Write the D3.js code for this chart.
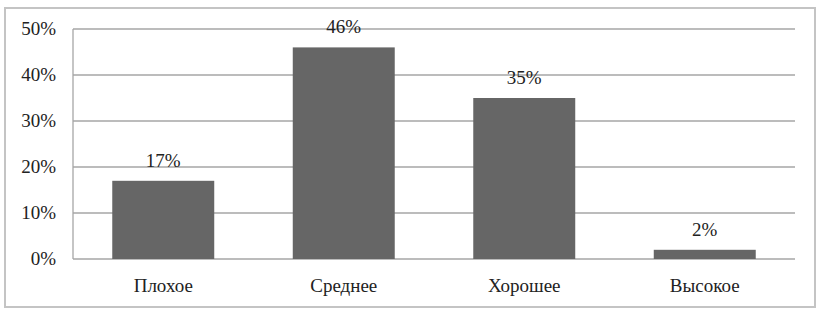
<!DOCTYPE html>
<html lang="ru">
<head>
<meta charset="UTF-8">
<script src="https://d3js.org/d3.v7.min.js"></script>
<style>
  body { margin: 0; background: #fff; }
</style>
</head>
<body>
<script>
var categories = ["Плохое", "Среднее", "Хорошее", "Высокое"]
var values = [17, 46, 35, 2]
var yTicks = [0, 10, 20, 30, 40, 50]

var width = 827, height = 316
var plotLeft = 73, plotRight = 795, plotTop = 29, plotBottom = 259
var fontFam = "'Liberation Serif', 'Times New Roman', Times, serif"

const svg = d3.select("body").append("svg")
    .attr("width", width)
    .attr("height", height)
    .style("font-family", fontFam)

// outer frame
svg.append("rect")
    .attr("x", 5).attr("y", 8)
    .attr("width", 810).attr("height", 299)
    .attr("fill", "none")
    .attr("stroke", "#c4c4c4")
    .attr("stroke-width", 2)

var x = d3.scaleBand().domain(categories).range([plotLeft, plotRight]).paddingInner(0.435).paddingOuter(0.2175)
var y = d3.scaleLinear().domain([0, 50]).range([plotBottom, plotTop])

// grid lines
svg.selectAll(".grid")
    .data(yTicks)
    .enter().append("line")
    .attr("x1", plotLeft).attr("x2", plotRight)
    .attr("y1", d => y(d)).attr("y2", d => y(d))
    .attr("stroke", "#a6a6a6")
    .attr("stroke-width", 1.3)

// left axis line
svg.append("line")
    .attr("x1", plotLeft).attr("x2", plotLeft)
    .attr("y1", plotTop).attr("y2", plotBottom)
    .attr("stroke", "#a6a6a6")
    .attr("stroke-width", 1.3)

svg.selectAll(".ytick")
    .data(yTicks)
    .enter().append("text")
    .attr("x", 56)
    .attr("y", d => y(d) + 6)
    .attr("text-anchor", "end")
    .attr("font-size", 19)
    .attr("fill", "#222")
    .text(d => d + "%")

svg.selectAll(".bar")
    .data(values)
    .enter().append("rect")
    .attr("x", (d, i) => x(categories[i]))
    .attr("y", d => y(d))
    .attr("width", x.bandwidth())
    .attr("height", d => plotBottom - y(d))
    .attr("fill", "#666666")

svg.selectAll(".val")
    .data(values)
    .enter().append("text")
    .attr("x", (d, i) => x(categories[i]) + x.bandwidth() / 2)
    .attr("y", d => y(d) - 14)
    .attr("text-anchor", "middle")
    .attr("font-size", 19)
    .attr("fill", "#222")
    .text(d => d + "%")

svg.selectAll(".cat")
    .data(categories)
    .enter().append("text")
    .attr("x", d => x(d) + x.bandwidth() / 2)
    .attr("y", 292)
    .attr("text-anchor", "middle")
    .attr("font-size", 19)
    .attr("fill", "#222")
    .text(d => d)
</script>
</body>
</html>
